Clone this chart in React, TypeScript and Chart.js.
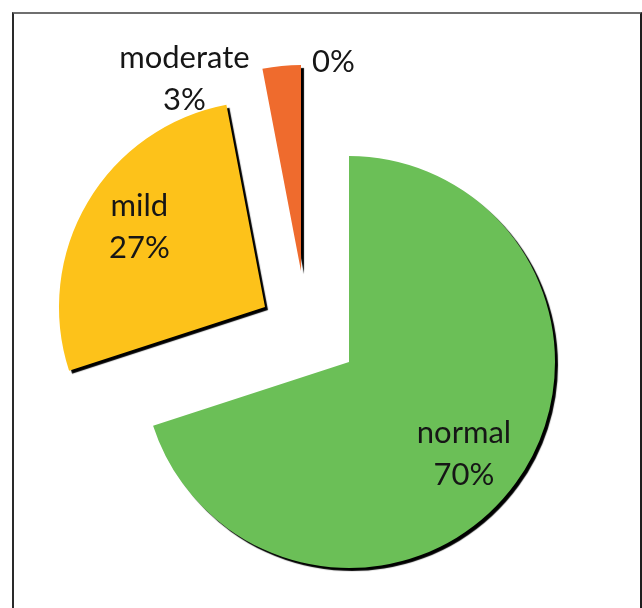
import React, { useEffect, useRef } from "react";
import { Chart, registerables } from "chart.js";

Chart.register(...registerables);

// Severity distribution (percent)
const categories = ["normal", "mild", "moderate", "severe"];
const shares = [70, 27, 3, 0];
const sliceColors = ["#6bbf57", "#fdc21a", "#ef6b2d", "#c0392b"];

// How far each slice is pulled away from the pie centre (px)
const sliceShift = [
  { dx: 0, dy: 0 },
  { dx: -84, dy: -55 },
  { dx: -48, dy: -91 },
  { dx: -48, dy: -91 },
];

// Small hand adjustments of the in-slice labels (px)
const labelNudge = [
  { dx: -5, dy: 4 },
  { dx: 2, dy: -5 },
  { dx: 0, dy: 0 },
  { dx: 0, dy: 0 },
];

const FONT = "31px Lato, 'Noto Sans', sans-serif";
const TEXT = "#161616";

const explodePlugin = {
  id: "explode",
  afterDatasetUpdate(chart: any, args: any) {
    const area = chart.chartArea;
    const cx = (area.left + area.right) / 2;
    const cy = (area.top + area.bottom) / 2;
    args.meta.data.forEach((arc: any, i: number) => {
      const s = sliceShift[i] || { dx: 0, dy: 0 };
      arc.x = cx + s.dx;
      arc.y = cy + s.dy;
    });
  },
};

const shadowPlugin = {
  id: "sliceShadow",
  beforeDatasetsDraw(chart: any) {
    const ctx = chart.ctx;
    ctx.save();
    ctx.shadowColor = "rgba(0,0,0,1)";
    ctx.shadowOffsetX = 3;
    ctx.shadowOffsetY = 3;
    ctx.shadowBlur = 1;
  },
  afterDatasetsDraw(chart: any) {
    chart.ctx.restore();
  },
};

const labelPlugin = {
  id: "sliceLabels",
  afterDraw(chart: any) {
    const ctx = chart.ctx;
    const arcs = chart.getDatasetMeta(0).data;
    ctx.save();
    ctx.font = FONT;
    ctx.fillStyle = TEXT;
    ctx.textBaseline = "alphabetic";
    ctx.textAlign = "center";

    arcs.forEach((arc: any, i: number) => {
      const pct = `${shares[i]}%`;
      const r = arc.outerRadius;
      if (shares[i] >= 10) {
        // label inside the slice, along its bisector
        const mid = (arc.startAngle + arc.endAngle) / 2;
        const n = labelNudge[i];
        const ax = arc.x + Math.cos(mid) * r * 0.72 + n.dx;
        const ay = arc.y + Math.sin(mid) * r * 0.72 + n.dy;
        ctx.fillText(categories[i], ax, ay - 10);
        ctx.fillText(pct, ax, ay + 32);
      } else if (shares[i] > 0) {
        // small slice: label to the left of its outer edge
        const px = arc.x + Math.cos(arc.startAngle) * r;
        const py = arc.y + Math.sin(arc.startAngle) * r;
        ctx.fillText(categories[i], px - 78, py - 1);
        ctx.fillText(pct, px - 78, py + 41);
      } else {
        // empty slice: only its percentage, next to the pie's top edge
        const px = arc.x + Math.cos(arc.startAngle) * r;
        const py = arc.y + Math.sin(arc.startAngle) * r;
        ctx.textAlign = "left";
        ctx.fillText(pct, px + 11, py + 7);
        ctx.textAlign = "center";
      }
    });
    ctx.restore();
  },
};

export default function App() {
  const canvasRef = useRef<HTMLCanvasElement | null>(null);

  useEffect(() => {
    if (!canvasRef.current) return;
    const chart = new Chart(canvasRef.current, {
      type: "pie",
      data: {
        labels: categories,
        datasets: [
          {
            data: shares,
            backgroundColor: sliceColors,
            borderWidth: 0,
            hoverOffset: 0,
            clip: false,
          } as any,
        ],
      },
      options: {
        animation: false,
        responsive: false,
        events: [],
        radius: 206,
        layout: { padding: { left: 56, top: 116, right: 0, bottom: 0 } },
        plugins: {
          legend: { display: false },
          tooltip: { enabled: false },
        },
      } as any,
      plugins: [explodePlugin, shadowPlugin, labelPlugin],
    });
    return () => chart.destroy();
  }, []);

  return (
    <div
      style={{
        position: "fixed",
        left: 0,
        top: 0,
        width: 642,
        height: 608,
        background: "#ffffff",
        overflow: "hidden",
      }}
    >
      <canvas
        ref={canvasRef}
        width={642}
        height={608}
        style={{ position: "absolute", left: 0, top: 0, width: 642, height: 608 }}
      />
      <div
        style={{
          position: "absolute",
          left: 12,
          top: 12,
          width: 630,
          height: 640,
          boxSizing: "border-box",
          borderTop: "2px solid #6f6f6f",
          borderLeft: "2px solid #2a2a2a",
          borderRight: "2px solid #1e1e1e",
          pointerEvents: "none",
        }}
      />
    </div>
  );
}
